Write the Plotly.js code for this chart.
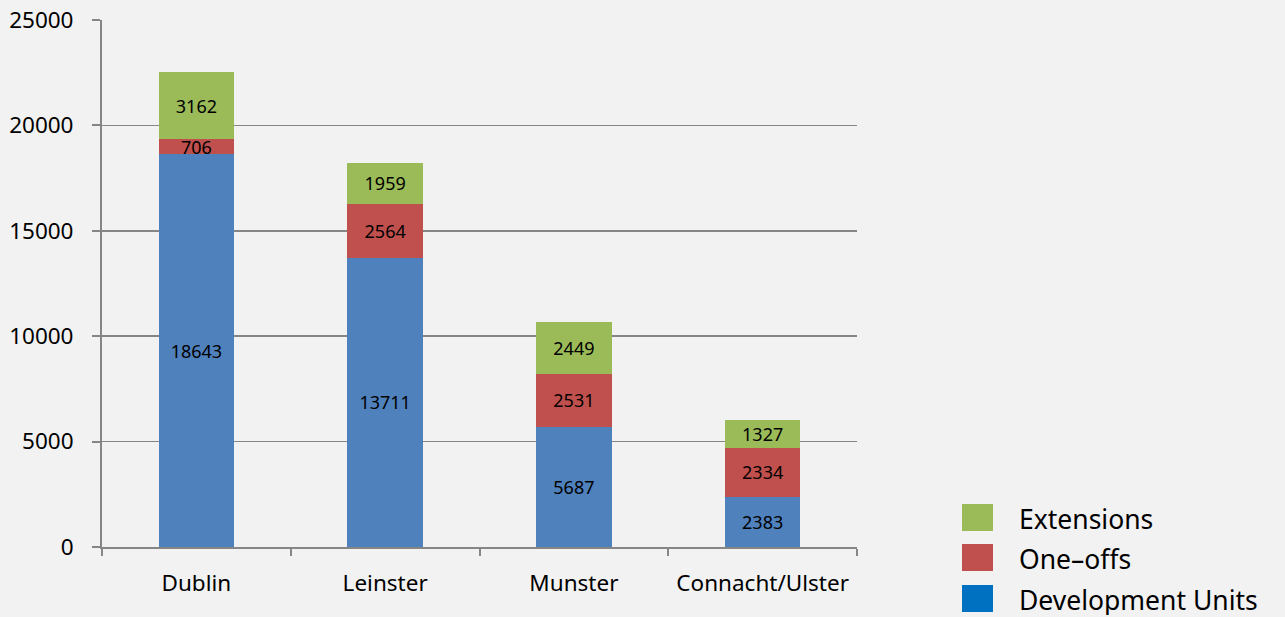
<!DOCTYPE html>
<html><head><meta charset="utf-8">
<script src="https://cdn.plot.ly/plotly-3.0.1.min.js"></script>
<style>html,body{margin:0;padding:0;background:#F2F2F2;}#chart{width:1285px;height:617px;}</style>
</head><body><div id="chart"></div>
<script>
const categories = ["Dublin", "Leinster", "Munster", "Connacht/Ulster"];
const developmentUnits = [18643, 13711, 5687, 2383];
const oneOffs = [706, 2564, 2531, 2334];
const extensions = [3162, 1959, 2449, 1327];
const seriesNames = ["Development Units", "One\u2013offs", "Extensions"];
const barColors = ["#4F81BD", "#C0504D", "#9BBB59"];
const legendColors = ["#0070C0", "#C0504D", "#9BBB59"];
const yTicks = [0, 5000, 10000, 15000, 20000, 25000];

const W = 1285, H = 617;
const L = 102, R = 857, T = 20, B = 547;
const px = x => (x - L) / (R - L);
const py = y => (B - y) / (B - T);

const series = [developmentUnits, oneOffs, extensions];
const traces = series.map((vals, i) => ({
  type: "bar", x: categories, y: vals, name: seriesNames[i],
  marker: {color: barColors[i], line: {width: 0}},
  text: vals.map(String), textposition: "inside", insidetextanchor: "middle",
  constraintext: "none", cliponaxis: false,
  textfont: {family: "Noto Sans", size: 18, color: "#000000"},
  showlegend: false, hoverinfo: "skip"
}));

// legend (drawn manually to match the reference's large swatches)
const legendOrder = [2, 1, 0];
const legendRows = [518, 558, 599];
const shapes = [], annotations = [];
legendOrder.forEach((s, k) => {
  const cy = legendRows[k];
  shapes.push({type: "rect", xref: "paper", yref: "paper",
    x0: px(962), x1: px(993), y0: py(cy - 14), y1: py(cy + 13),
    fillcolor: legendColors[s], line: {width: 0}});
  annotations.push({xref: "paper", yref: "paper", x: px(1017), y: py(cy + 1),
    xanchor: "left", yanchor: "middle", showarrow: false, text: seriesNames[s],
    height: 30, valign: "middle",
    font: {family: "Noto Sans", size: 26.5, color: "#000000"}});
});

const layout = {
  width: W, height: H, barmode: "stack", bargap: 0.6,
  paper_bgcolor: "#F2F2F2", plot_bgcolor: "#F2F2F2",
  margin: {l: L, r: W - R, t: T, b: H - B, pad: 0},
  font: {family: "Noto Sans", color: "#000000"},
  xaxis: {type: "category", tickson: "boundaries", ticks: "outside", ticklen: 7,
    tickcolor: "#868686", tickwidth: 2, showline: true, linecolor: "#868686", linewidth: 2,
    showgrid: false, tickfont: {size: 22.5, family: "Noto Sans"}, ticklabelstandoff: 15},
  yaxis: {range: [0, 25000], tickvals: yTicks, ticktext: yTicks.map(String),
    ticks: "outside", ticklen: 8, tickcolor: "#868686", tickwidth: 2,
    showline: true, linecolor: "#868686", linewidth: 2,
    showgrid: true, gridcolor: "#868686", gridwidth: 1.5, zeroline: false,
    tickfont: {size: 22.5, family: "Noto Sans"}, ticklabelstandoff: 14},
  showlegend: false, shapes: shapes, annotations: annotations
};
Plotly.newPlot("chart", traces, layout, {displayModeBar: false, staticPlot: true});
</script></body></html>
